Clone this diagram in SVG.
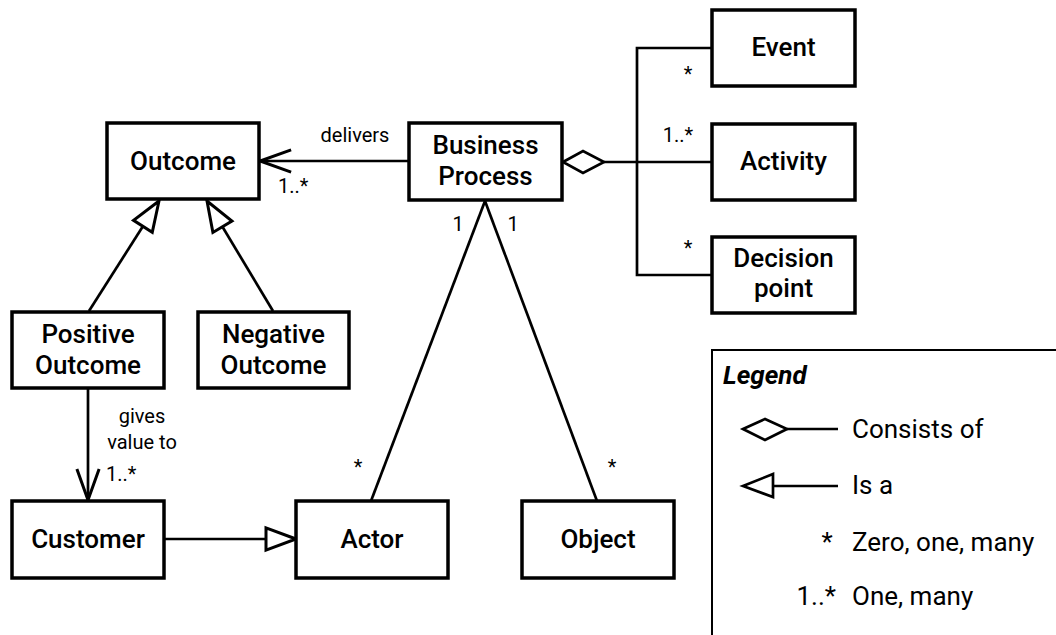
<svg xmlns="http://www.w3.org/2000/svg" width="1056" height="635" viewBox="0 0 1056 635">
<style>
.box{fill:#fff;stroke:#000;stroke-width:3.5}
.lbl{font-family:Roboto,"Liberation Sans",sans-serif;font-size:26px;font-weight:500;fill:#000;text-anchor:middle}
.sm{font-family:Roboto,"Liberation Sans",sans-serif;font-size:20px;fill:#000}
.lg{font-family:Roboto,"Liberation Sans",sans-serif;font-size:26px;fill:#000}
.ln{fill:none;stroke:#000;stroke-width:2.7}
.hollow{fill:#fff;stroke:#000;stroke-width:2.7;stroke-linejoin:miter}
</style>
<defs>
<marker id="tri" markerUnits="userSpaceOnUse" markerWidth="40" markerHeight="40" viewBox="-32 -16 36 32" refX="0" refY="0" orient="auto" overflow="visible">
<path d="M0,0 L-27,-10 L-27,10 Z" fill="#fff" stroke="#000" stroke-width="2.7"/>
</marker>
<marker id="open" markerUnits="userSpaceOnUse" markerWidth="40" markerHeight="40" viewBox="-32 -16 36 32" refX="0" refY="0" orient="auto" overflow="visible">
<path d="M-28,-10 L0,0 L-28,10" fill="none" stroke="#000" stroke-width="2.7"/>
</marker>
</defs>
<rect width="1056" height="635" fill="#fff"/>

<g id="connectors">
<line class="ln" x1="409" y1="161" x2="260" y2="161" marker-end="url(#open)"/>
<line class="ln" x1="89" y1="311" x2="159" y2="201" marker-end="url(#tri)"/>
<line class="ln" x1="273" y1="311" x2="207" y2="201" marker-end="url(#tri)"/>
<line class="ln" x1="88" y1="389" x2="88" y2="500" marker-end="url(#open)"/>
<line class="ln" x1="164" y1="539" x2="296" y2="539" marker-end="url(#tri)"/>
<line class="ln" x1="485" y1="201" x2="371" y2="501"/>
<line class="ln" x1="485" y1="201" x2="597" y2="501"/>
<polyline class="ln" points="712,48 637,48 637,275 712,275"/>
<line class="ln" x1="604" y1="162" x2="712" y2="162"/>
<polygon class="hollow" points="563,162 583,151 604,162 583,173"/>
</g>

<g id="labels">
<text class="sm" x="355" y="142" text-anchor="middle">delivers</text>
<text class="sm" x="278" y="193">1..*</text>
<text class="sm" x="688" y="81" text-anchor="middle">*</text>
<text class="sm" x="678" y="142" text-anchor="middle">1..*</text>
<text class="sm" x="688" y="255" text-anchor="middle">*</text>
<text class="sm" x="458" y="231" text-anchor="middle">1</text>
<text class="sm" x="513" y="231" text-anchor="middle">1</text>
<text class="sm" x="358" y="474" text-anchor="middle">*</text>
<text class="sm" x="612" y="474" text-anchor="middle">*</text>
<text class="sm" x="142" y="423" text-anchor="middle">gives</text>
<text class="sm" x="142" y="449" text-anchor="middle">value to</text>
<text class="sm" x="106" y="481">1..*</text>
</g>

<g id="outcome"><rect class="box" x="107" y="123" width="152" height="76"/><text class="lbl" x="183" y="170">Outcome</text></g>
<g id="business-process"><rect class="box" x="409" y="123" width="153" height="77"/><text class="lbl" x="485.5" y="154">Business</text><text class="lbl" x="485.5" y="185">Process</text></g>
<g id="event"><rect class="box" x="712" y="10" width="143" height="76"/><text class="lbl" x="783.5" y="56">Event</text></g>
<g id="activity"><rect class="box" x="712" y="124" width="143" height="76"/><text class="lbl" x="783.5" y="170">Activity</text></g>
<g id="decision-point"><rect class="box" x="712" y="237" width="143" height="76"/><text class="lbl" x="783.5" y="267">Decision</text><text class="lbl" x="783.5" y="297">point</text></g>
<g id="positive-outcome"><rect class="box" x="12" y="312" width="152" height="76"/><text class="lbl" x="88" y="343">Positive</text><text class="lbl" x="88" y="374">Outcome</text></g>
<g id="negative-outcome"><rect class="box" x="198" y="312" width="151" height="76"/><text class="lbl" x="273.5" y="343">Negative</text><text class="lbl" x="273.5" y="374">Outcome</text></g>
<g id="customer"><rect class="box" x="12" y="501" width="152" height="77"/><text class="lbl" x="88" y="548">Customer</text></g>
<g id="actor"><rect class="box" x="296" y="501" width="152" height="77"/><text class="lbl" x="372" y="548">Actor</text></g>
<g id="object"><rect class="box" x="522" y="501" width="152" height="77"/><text class="lbl" x="598" y="548">Object</text></g>

<g id="legend">
<rect x="712" y="350" width="360" height="300" fill="#fff" stroke="#000" stroke-width="2"/>
<text class="lg" x="723" y="384" font-weight="bold" font-style="italic">Legend</text>
<polygon class="hollow" points="743,429 765,419 787,429 765,440"/>
<line class="ln" x1="787" y1="429" x2="838" y2="429"/>
<text class="lg" x="852" y="438">Consists of</text>
<line class="ln" x1="773" y1="486" x2="838" y2="486"/>
<polygon class="hollow" points="743,486 773,474 773,497"/>
<text class="lg" x="852" y="494">Is a</text>
<text class="lg" x="827" y="551" text-anchor="middle">*</text>
<text class="lg" x="852" y="551">Zero, one, many</text>
<text class="lg" x="836" y="605" text-anchor="end">1..*</text>
<text class="lg" x="852" y="605">One, many</text>
</g>
</svg>
